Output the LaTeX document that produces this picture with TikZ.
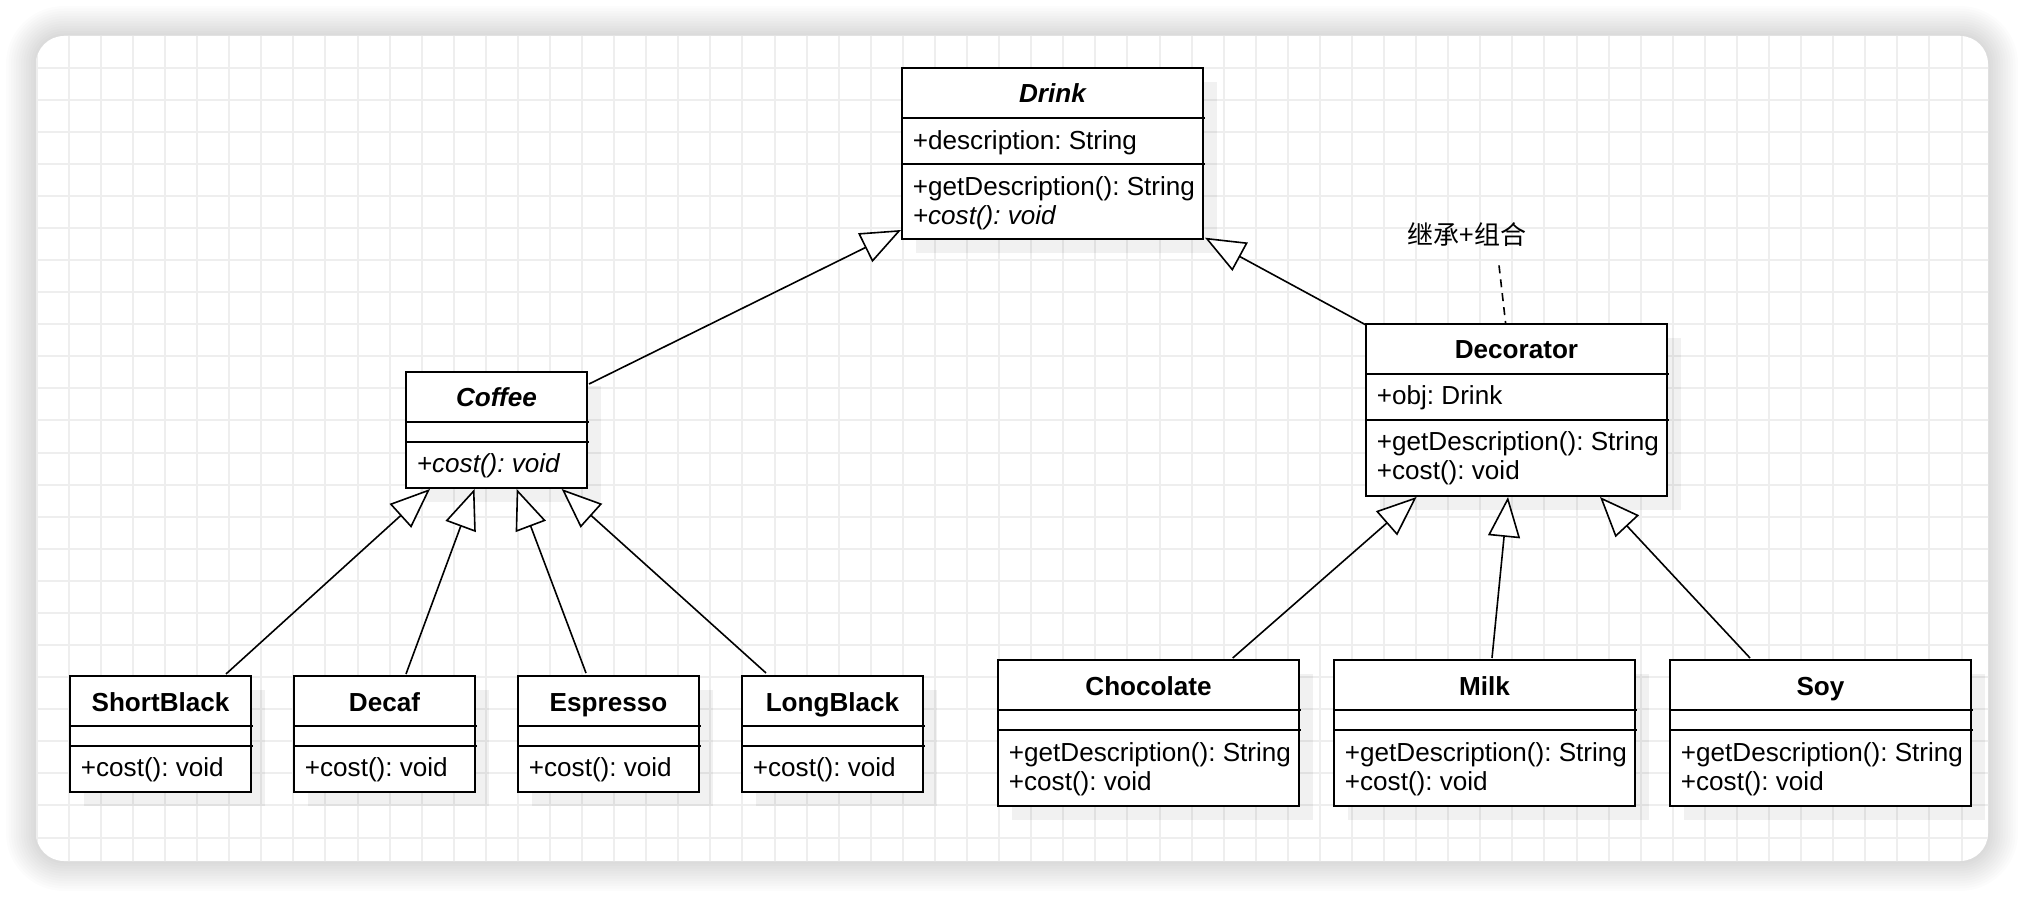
\documentclass[tikz,border=0pt]{standalone}
\usepackage{fontspec}
\setmainfont{Liberation Sans}
\newfontfamily\cjk{Noto Sans CJK SC}
\usetikzlibrary{arrows.meta,calc}
\frenchspacing
\definecolor{gridc}{RGB}{238,238,238}
\tikzset{
  cbox/.style={draw=black, line width=1pt, fill=white, inner sep=0pt, outer sep=0pt, rectangle, anchor=north west},
  secline/.style={draw=black, line width=1pt},
  boxshadow/.style={fill=black, opacity=0.055},
  member/.style={anchor=base west, inner sep=0pt, font=\fontsize{13.05pt}{15pt}\selectfont},
  ctitle/.style={anchor=base, inner sep=0pt, font=\fontsize{13.05pt}{15pt}\selectfont\bfseries},
  inh/.style={draw=black, line width=0.8pt, -{Triangle[length=20pt,width=16pt,fill=white,line width=0.8pt]}},
  gridline/.style={draw=gridc, line width=1pt},
  notedash/.style={draw=black, line width=0.8pt, dash pattern=on 4pt off 3pt},
}
\newcommand\classbox[8]{%
  \fill[boxshadow] (#2+14,#3+14) rectangle (#2+#4+14,#3+#5+14);
  \node[cbox, minimum width=#4*0.5pt, minimum height=#5*0.5pt] (#1) at (#2,#3) {};
  \draw[secline] ($(#1.north west)+(0,#6)$) -- ($(#1.north east)+(2,#6)$);
  \draw[secline] ($(#1.north west)+(0,#7)$) -- ($(#1.north east)+(2,#7)$);
  \node[ctitle] at ($(#1.north)+(0,35)$) {#8};
}
\newcommand\mem[3]{\node[member] at ($(#1.north west)+(10.5,#2)$) {#3};}
\begin{document}
\begin{tikzpicture}[x=0.5pt,y=-0.5pt]
\useasboundingbox (0,0) rectangle (2024,898);
% panel shadow
\foreach \k in {1,...,12}{
  \pgfmathsetmacro\rr{14+1.25*\k}
  \fill[black, opacity=0.013, rounded corners=\rr pt] ({36-2.5*\k},{36-2.5*\k}) rectangle ({1988+2.5*\k},{861+2.5*\k});
}
\fill[white, rounded corners=14pt] (36,36) rectangle (1988,861);
\begin{scope}
  \clip[rounded corners=14pt] (36,36) rectangle (1988,861);
  \foreach \i in {0,...,60} \draw[gridline] ({36.7+32.08*\i},30) -- ({36.7+32.08*\i},870);
  \foreach \i in {0,...,25} \draw[gridline] (30,{35.5+32.08*\i}) -- (1995,{35.5+32.08*\i});
\end{scope}
% classes
\classbox{drink}{902}{68}{301}{171}{50}{96}{\itshape Drink}
\mem{drink}{82}{+description: String}
\mem{drink}{128}{+getDescription(): String}
\mem{drink}{157}{\itshape +cost(): void}

\classbox{coffee}{406}{372}{181}{116}{50}{70}{\itshape Coffee}
\mem{coffee}{100.5}{\itshape +cost(): void}

\classbox{decorator}{1366}{324}{301}{172}{50}{96}{Decorator}
\mem{decorator}{81}{+obj: Drink}
\mem{decorator}{127}{+getDescription(): String}
\mem{decorator}{156}{+cost(): void}

\classbox{shortblack}{70}{676}{181}{116}{50}{70}{ShortBlack}
\mem{shortblack}{100}{+cost(): void}
\classbox{decaf}{294}{676}{181}{116}{50}{70}{Decaf}
\mem{decaf}{100}{+cost(): void}
\classbox{espresso}{518}{676}{181}{116}{50}{70}{Espresso}
\mem{espresso}{100}{+cost(): void}
\classbox{longblack}{742}{676}{181}{116}{50}{70}{LongBlack}
\mem{longblack}{100}{+cost(): void}

\classbox{chocolate}{998}{660}{301}{146}{50}{70}{Chocolate}
\mem{chocolate}{101}{+getDescription(): String}
\mem{chocolate}{130}{+cost(): void}
\classbox{milk}{1334}{660}{301}{146}{50}{70}{Milk}
\mem{milk}{101}{+getDescription(): String}
\mem{milk}{130}{+cost(): void}
\classbox{soy}{1670}{660}{301}{146}{50}{70}{Soy}
\mem{soy}{101}{+getDescription(): String}
\mem{soy}{130}{+cost(): void}

% note
\node[inner sep=0pt, font=\cjk\fontsize{13pt}{15pt}\selectfont] (note) at (1467,235) {继承+组合};
\draw[notedash] ($(note.south)+(32,18)$) -- ($(decorator.north west)+(139.7,0)$);

% inheritance
\draw[inh] ($(coffee.north east)+(2,12)$) -- ($(drink.south west)+(-1,-9)$);
\draw[inh] ($(decorator.north west)+(0,1)$) -- ($(drink.south east)+(2,-1.3)$);
\draw[inh] ($(shortblack.north west)+(156,-2)$) -- ($(coffee.south west)+(24,1)$);
\draw[inh] ($(decaf.north west)+(112,-2)$) -- ($(coffee.south west)+(68.5,1)$);
\draw[inh] ($(espresso.north west)+(68,-3)$) -- ($(coffee.south west)+(110.7,1)$);
\draw[inh] ($(longblack.north west)+(24,-3)$) -- ($(coffee.south west)+(155.7,1)$);
\draw[inh] ($(chocolate.north west)+(234.7,-2)$) -- ($(decorator.south west)+(50.6,1)$);
\draw[inh] ($(milk.north west)+(158,-2)$) -- ($(decorator.south west)+(142,1)$);
\draw[inh] ($(soy.north west)+(80,-2)$) -- ($(decorator.south west)+(234,1)$);
\end{tikzpicture}
\end{document}
